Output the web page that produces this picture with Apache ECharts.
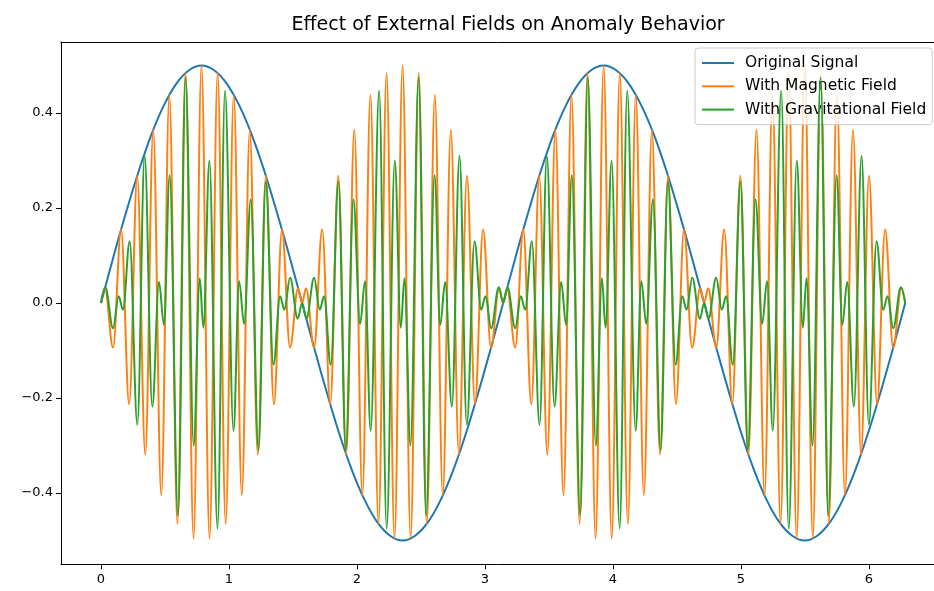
<!DOCTYPE html>
<html>
<head>
<meta charset="utf-8">
<title>Effect of External Fields on Anomaly Behavior</title>
<script src="https://cdn.jsdelivr.net/npm/echarts@6/dist/echarts.min.js"></script>
<style>
  html, body { margin: 0; padding: 0; background: #fff; }
  #chart { width: 934px; height: 591px; }
</style>
</head>
<body>
<div id="chart"></div>
<script>
// values
const seriesNames = ['Original Signal', 'With Magnetic Field', 'With Gravitational Field'];
const xTicks = [0, 1, 2, 3, 4, 5, 6];
const yTicks = [-0.4, -0.2, 0, 0.2, 0.4];

// original signal, sampled along the blue curve
const origX = [0, 0.098, 0.196, 0.295, 0.393, 0.491, 0.589, 0.687, 0.785, 0.884, 0.982, 1.080, 1.178, 1.276, 1.374, 1.473,
  1.571, 1.669, 1.767, 1.865, 1.963, 2.062, 2.160, 2.258, 2.356, 2.454, 2.553, 2.651, 2.749, 2.847, 2.945, 3.043,
  3.142, 3.240, 3.338, 3.436, 3.534, 3.632, 3.731, 3.829, 3.927, 4.025, 4.123, 4.221, 4.320, 4.418, 4.516, 4.614,
  4.712, 4.811, 4.909, 5.007, 5.105, 5.203, 5.301, 5.400, 5.498, 5.596, 5.694, 5.792, 5.890, 5.988, 6.087, 6.185, 6.283];
const origY = [0, 0.098, 0.191, 0.278, 0.354, 0.416, 0.462, 0.490, 0.5, 0.490, 0.462, 0.416, 0.354, 0.278, 0.191, 0.098,
  0, -0.098, -0.191, -0.278, -0.354, -0.416, -0.462, -0.490, -0.5, -0.490, -0.462, -0.416, -0.354, -0.278, -0.191, -0.098,
  0, 0.098, 0.191, 0.278, 0.354, 0.416, 0.462, 0.490, 0.5, 0.490, 0.462, 0.416, 0.354, 0.278, 0.191, 0.098,
  0, -0.098, -0.191, -0.278, -0.354, -0.416, -0.462, -0.490, -0.5, -0.490, -0.462, -0.416, -0.354, -0.278, -0.191, -0.098, 0];

// magnetic field: peaks and troughs of the orange line
const magX = [0,
  0.031, 0.094, 0.157, 0.220, 0.283, 0.346, 0.408, 0.471, 0.534, 0.597, 0.660, 0.723, 0.785, 0.848, 0.911, 0.974, 1.037, 1.100, 1.162, 1.225, 1.288, 1.351, 1.414, 1.477, 1.539,
  1.571,
  1.602, 1.665, 1.728, 1.791, 1.854, 1.916, 1.979, 2.042, 2.105, 2.168, 2.231, 2.293, 2.356, 2.419, 2.482, 2.545, 2.608, 2.670, 2.733, 2.796, 2.859, 2.922, 2.985, 3.047, 3.110,
  3.142,
  3.173, 3.236, 3.299, 3.362, 3.424, 3.487, 3.550, 3.613, 3.676, 3.739, 3.801, 3.864, 3.927, 3.990, 4.053, 4.116, 4.178, 4.241, 4.304, 4.367, 4.430, 4.492, 4.555, 4.618, 4.681,
  4.712,
  4.744, 4.807, 4.869, 4.932, 4.995, 5.058, 5.121, 5.184, 5.246, 5.309, 5.372, 5.435, 5.498, 5.561, 5.623, 5.686, 5.749, 5.812, 5.875, 5.938, 6.000, 6.063, 6.126, 6.189, 6.252,
  6.283];
const magY = [0,
  0.031, -0.094, 0.155, -0.213, 0.268, -0.319, 0.365, -0.405, 0.438, -0.465, 0.484, -0.496, 0.5, -0.496, 0.484, -0.465, 0.438, -0.405, 0.365, -0.319, 0.268, -0.213, 0.155, -0.094, 0.031,
  0,
  0.031, -0.094, 0.155, -0.213, 0.268, -0.319, 0.365, -0.405, 0.438, -0.465, 0.484, -0.496, 0.5, -0.496, 0.484, -0.465, 0.438, -0.405, 0.365, -0.319, 0.268, -0.213, 0.155, -0.094, 0.031,
  0,
  0.031, -0.094, 0.155, -0.213, 0.268, -0.319, 0.365, -0.405, 0.438, -0.465, 0.484, -0.496, 0.5, -0.496, 0.484, -0.465, 0.438, -0.405, 0.365, -0.319, 0.268, -0.213, 0.155, -0.094, 0.031,
  0,
  0.031, -0.094, 0.155, -0.213, 0.268, -0.319, 0.365, -0.405, 0.438, -0.465, 0.484, -0.496, 0.5, -0.496, 0.484, -0.465, 0.438, -0.405, 0.365, -0.319, 0.268, -0.213, 0.155, -0.094, 0.031,
  0];

// gravitational field: peaks and troughs of the green line
const gravX = [0,
  0.034, 0.094, 0.138, 0.172, 0.224, 0.284, 0.341, 0.401, 0.453, 0.492, 0.536, 0.602, 0.661, 0.724, 0.771,
  0.800, 0.847, 0.910, 0.969, 1.035, 1.079, 1.118, 1.170, 1.230, 1.287, 1.347, 1.399, 1.433, 1.477, 1.537, 1.571,
  1.605, 1.665, 1.709, 1.743, 1.795, 1.855, 1.912, 1.972, 2.024, 2.063, 2.107, 2.173, 2.232, 2.295, 2.342,
  2.371, 2.418, 2.481, 2.540, 2.606, 2.650, 2.689, 2.741, 2.801, 2.858, 2.918, 2.970, 3.004, 3.048, 3.108, 3.142,
  3.176, 3.236, 3.280, 3.314, 3.366, 3.426, 3.483, 3.543, 3.595, 3.634, 3.678, 3.744, 3.803, 3.866, 3.913,
  3.942, 3.989, 4.052, 4.111, 4.177, 4.221, 4.260, 4.312, 4.372, 4.429, 4.489, 4.541, 4.575, 4.619, 4.679, 4.712,
  4.746, 4.806, 4.850, 4.884, 4.936, 4.996, 5.053, 5.113, 5.165, 5.204, 5.248, 5.314, 5.373, 5.436, 5.483,
  5.512, 5.559, 5.622, 5.681, 5.747, 5.791, 5.830, 5.882, 5.942, 5.999, 6.059, 6.111, 6.145, 6.189, 6.249, 6.283];
const gravY = [0,
  0.033, -0.053, 0.014, -0.014, 0.13, -0.256, 0.31, -0.218, 0.044, -0.046, 0.269, -0.447, 0.475, -0.30, 0.052,
  -0.052, 0.30, -0.475, 0.447, -0.269, 0.046, -0.044, 0.218, -0.31, 0.256, -0.13, 0.014, -0.014, 0.053, -0.033, 0,
  -0.033, 0.053, -0.014, 0.014, -0.13, 0.256, -0.31, 0.218, -0.044, 0.046, -0.269, 0.447, -0.475, 0.30, -0.052,
  0.052, -0.30, 0.475, -0.447, 0.269, -0.046, 0.044, -0.218, 0.31, -0.256, 0.13, -0.014, 0.014, -0.053, 0.033, 0,
  0.033, -0.053, 0.014, -0.014, 0.13, -0.256, 0.31, -0.218, 0.044, -0.046, 0.269, -0.447, 0.475, -0.30, 0.052,
  -0.052, 0.30, -0.475, 0.447, -0.269, 0.046, -0.044, 0.218, -0.31, 0.256, -0.13, 0.014, -0.014, 0.053, -0.033, 0,
  -0.033, 0.053, -0.014, 0.014, -0.13, 0.256, -0.31, 0.218, -0.044, 0.046, -0.269, 0.447, -0.475, 0.30, -0.052,
  0.052, -0.30, 0.475, -0.447, 0.269, -0.046, 0.044, -0.218, 0.31, -0.256, 0.13, -0.014, 0.014, -0.053, 0.033, 0];

const pairs = (xs, ys) => xs.map((x, i) => [x, ys[i]]);
const fmtTick = v => (v < 0 ? '\u2212' : '') + Math.abs(v).toFixed(1);

const chart = echarts.init(document.getElementById('chart'), null, { renderer: 'canvas' });

const font = 'DejaVu Sans';
const xMin = -0.3125;
const xMax = 6.5078; // the right spine is cut off by the picture edge

const option = {
  animation: false,
  backgroundColor: '#fff',
  color: ['#1f77b4', '#ff7f0e', '#2ca02c'],
  title: {
    text: 'Effect of External Fields on Anomaly Behavior',
    left: 503,
    textAlign: 'center',
    top: 11,
    textStyle: { fontFamily: font, fontSize: 19, fontWeight: 'normal', color: '#000' }
  },
  legend: {
    data: seriesNames,
    orient: 'vertical',
    left: 695,
    top: 48,
    padding: [6, 6, 6, 7],
    itemWidth: 32,
    itemHeight: 2,
    itemGap: 5.3,
    icon: 'rect',
    backgroundColor: 'rgba(255,255,255,0.8)',
    borderColor: '#cccccc',
    borderWidth: 1,
    borderRadius: 3,
    textStyle: { fontFamily: font, fontSize: 15.5, color: '#000', lineHeight: 18, padding: [0, 0, 0, 6] }
  },
  grid: {
    left: 61,
    top: 41.75,
    right: 0,
    height: 522.5,
    show: false
  },
  xAxis: [
    {
      type: 'value',
      min: xMin,
      max: xMax,
      axisLine: { show: true, onZero: false, lineStyle: { color: '#000', width: 1 } },
      splitLine: { show: false },
      axisTick: { show: true, length: 5, lineStyle: { color: '#000' }, customValues: xTicks },
      axisLabel: {
        customValues: xTicks,
        margin: 9,
        fontFamily: font,
        fontSize: 13,
        color: '#000'
      }
    },
    {
      // top spine only
      type: 'value',
      position: 'top',
      min: xMin,
      max: xMax,
      axisLine: { show: true, onZero: false, lineStyle: { color: '#000', width: 1 } },
      splitLine: { show: false },
      axisTick: { show: false },
      axisLabel: { show: false }
    }
  ],
  yAxis: {
    type: 'value',
    min: -0.55,
    max: 0.55,
    axisLine: { show: true, onZero: false, lineStyle: { color: '#000', width: 1 } },
    splitLine: { show: false },
    axisTick: { show: true, length: 5, lineStyle: { color: '#000' }, customValues: yTicks },
    axisLabel: {
      customValues: yTicks,
      margin: 8,
      fontFamily: font,
      fontSize: 13,
      color: '#000',
      formatter: fmtTick
    }
  },
  series: [
    {
      name: seriesNames[0],
      type: 'line',
      data: pairs(origX, origY),
      showSymbol: false,
      symbol: 'none',
      smooth: 0.33,
      lineStyle: { width: 2 },
      z: 2
    },
    {
      name: seriesNames[1],
      type: 'line',
      data: pairs(magX, magY),
      showSymbol: false,
      symbol: 'none',
      smooth: 0.36,
      smoothMonotone: 'x',
      lineStyle: { width: 2 },
      z: 3
    },
    {
      name: seriesNames[2],
      type: 'line',
      data: pairs(gravX, gravY),
      showSymbol: false,
      symbol: 'none',
      smooth: 0.36,
      smoothMonotone: 'x',
      lineStyle: { width: 2 },
      z: 4
    }
  ]
};

chart.setOption(option);
</script>
</body>
</html>
